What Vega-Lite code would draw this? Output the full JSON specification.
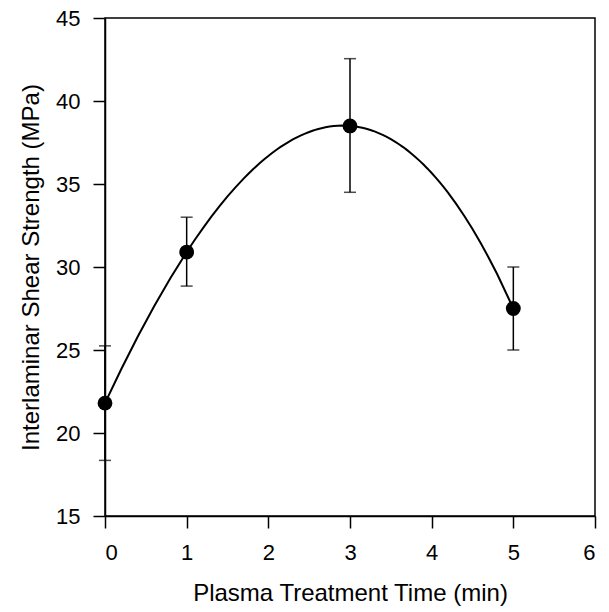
{
  "$schema": "https://vega.github.io/schema/vega-lite/v6.json",
  "autosize": "none",
  "width": 490,
  "height": 498,
  "padding": {"left": 105, "top": 18, "right": 14, "bottom": 96},
  "background": "white",
  "config": {
    "view": {"stroke": "black", "strokeWidth": 1.5},
    "font": "Liberation Sans",
    "axis": {
      "grid": false,
      "domainColor": "black",
      "domainWidth": 1.5,
      "tickColor": "black",
      "tickWidth": 1.5,
      "tickSize": 12,
      "labelColor": "black",
      "labelFontSize": 22,
      "titleColor": "black",
      "titleFontSize": 24,
      "titleFontWeight": "normal"
    }
  },
  "data": {
    "values": [
      {"time": 0, "iss": 21.8, "lo": 18.35, "hi": 25.25},
      {"time": 1, "iss": 30.9, "lo": 28.85, "hi": 33.0},
      {"time": 3, "iss": 38.5, "lo": 34.5, "hi": 42.55},
      {"time": 5, "iss": 27.5, "lo": 25.0, "hi": 30.0}
    ]
  },
  "layer": [
    {
      "transform": [{"regression": "iss", "on": "time", "method": "poly", "order": 3}],
      "mark": {"type": "line", "color": "black", "strokeWidth": 2, "clip": true},
      "encoding": {
        "x": {"field": "time", "type": "quantitative", "title": "Plasma Treatment Time (min)"},
        "y": {"field": "iss", "type": "quantitative", "title": "Interlaminar Shear Strength (MPa)"}
      }
    },
    {
      "mark": {"type": "errorbar", "ticks": {"size": 12, "color": "black", "thickness": 1.5}, "rule": {"color": "black", "strokeWidth": 1.5}},
      "encoding": {
        "x": {"field": "time", "type": "quantitative", "title": "Plasma Treatment Time (min)"},
        "y": {"field": "lo", "type": "quantitative", "title": "Interlaminar Shear Strength (MPa)"},
        "y2": {"field": "hi"}
      }
    },
    {
      "mark": {"type": "point", "filled": true, "color": "black", "size": 220, "opacity": 1},
      "encoding": {
        "x": {
          "field": "time", "type": "quantitative",
          "title": "Plasma Treatment Time (min)",
          "scale": {"domain": [0, 6], "nice": false, "zero": false},
          "axis": {"values": [0, 1, 2, 3, 4, 5, 6], "format": "d", "labelPadding": 14, "titlePadding": 18}
        },
        "y": {
          "field": "iss", "type": "quantitative",
          "title": "Interlaminar Shear Strength (MPa)",
          "scale": {"domain": [15, 45], "nice": false, "zero": false},
          "axis": {"values": [15, 20, 25, 30, 35, 40, 45], "format": "d", "labelPadding": 13, "titlePadding": 12}
        }
      }
    }
  ]
}
